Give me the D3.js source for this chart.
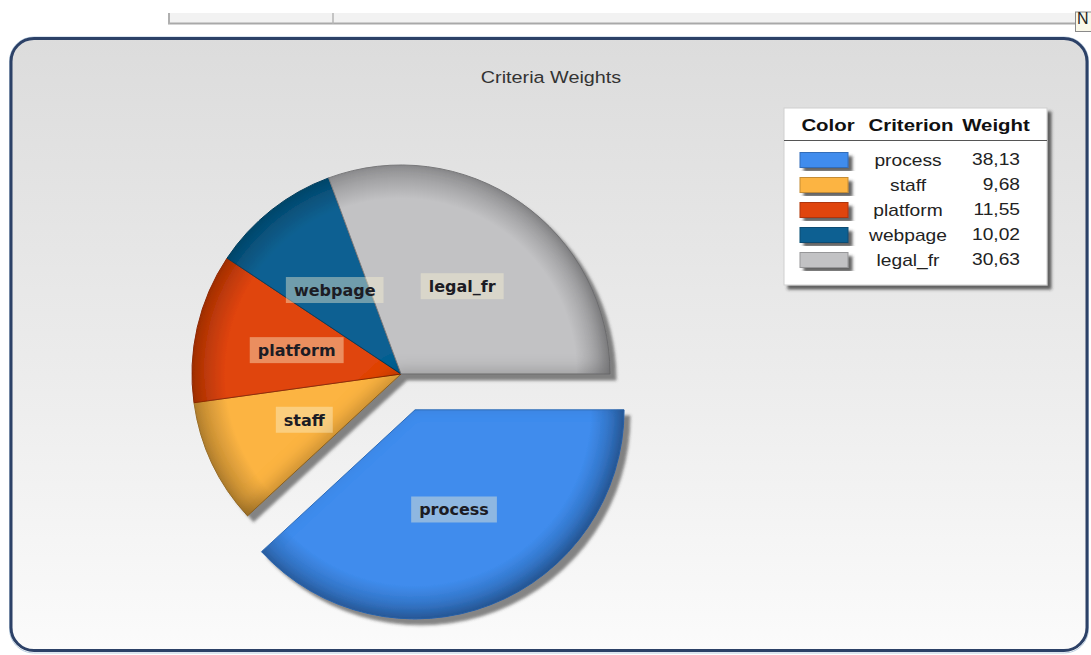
<!DOCTYPE html>
<html>
<head>
<meta charset="utf-8">
<script src="https://cdn.jsdelivr.net/npm/d3@7"></script>
<style>
  html, body { margin: 0; padding: 0; background: #ffffff; }
  svg { display: block; }
</style>
</head>
<body>
<svg id="chart" width="1091" height="655"></svg>
<script>
// Criteria and their weights (percent), in drawing order
const criteria = ["process", "staff", "platform", "webpage", "legal_fr"];
const weights = [38.13, 9.68, 11.55, 10.02, 30.63];
const palette = ["#3f8ced", "#fcb443", "#e0440e", "#0f6192", "#c2c2c4"];
const legendHeaders = ["Color", "Criterion", "Weight"];
const chartTitle = "Criteria Weights";
const explodedCriterion = "process";

const svg = d3.select("#chart");

const color = d3.scaleOrdinal(criteria, palette);
const fmt = d3.formatLocale({ decimal: ",", thousands: ".", grouping: [3], currency: ["", ""] }).format(".2f");

const defs = svg.append("defs");

// panel background gradient
const bg = defs.append("linearGradient").attr("id", "panelBg")
  .attr("x1", 0).attr("y1", 0).attr("x2", 0).attr("y2", 1);
bg.append("stop").attr("offset", "0%").attr("stop-color", "#dcdcdc");
bg.append("stop").attr("offset", "55%").attr("stop-color", "#ececec");
bg.append("stop").attr("offset", "100%").attr("stop-color", "#fbfbfb");

// bevel: inner shading toward lower right plus a soft drop shadow
const f = defs.append("filter").attr("id", "bevel")
  .attr("x", "-10%").attr("y", "-10%").attr("width", "130%").attr("height", "130%");
f.append("feGaussianBlur").attr("in", "SourceAlpha").attr("stdDeviation", 8).attr("result", "b");
f.append("feOffset").attr("in", "b").attr("dx", -5).attr("dy", -5).attr("result", "bo");
f.append("feComposite").attr("in", "SourceAlpha").attr("in2", "bo").attr("operator", "out").attr("result", "rim");
f.append("feFlood").attr("flood-color", "#000").attr("flood-opacity", 0.4).attr("result", "c");
f.append("feComposite").attr("in", "c").attr("in2", "rim").attr("operator", "in").attr("result", "shade");
const m1 = f.append("feMerge").attr("result", "lit");
m1.append("feMergeNode").attr("in", "SourceGraphic");
m1.append("feMergeNode").attr("in", "shade");
f.append("feGaussianBlur").attr("in", "SourceAlpha").attr("stdDeviation", 1.5).attr("result", "db");
f.append("feOffset").attr("in", "db").attr("dx", 6).attr("dy", 6).attr("result", "dbo");
f.append("feFlood").attr("flood-color", "#3a3a3a").attr("flood-opacity", 0.6).attr("result", "dc");
f.append("feComposite").attr("in", "dc").attr("in2", "dbo").attr("operator", "in").attr("result", "drop");
const m2 = f.append("feMerge");
m2.append("feMergeNode").attr("in", "drop");
m2.append("feMergeNode").attr("in", "lit");

// legend / swatch shadow
const ls = defs.append("filter").attr("id", "boxShadow")
  .attr("x", "-10%").attr("y", "-10%").attr("width", "130%").attr("height", "130%");
ls.append("feDropShadow").attr("dx", 4).attr("dy", 4).attr("stdDeviation", 1.5)
  .attr("flood-color", "#303030").attr("flood-opacity", 0.75);

// helper: text stretched horizontally around its anchor
function stretchedText(g, x, y, str, k) {
  return g.append("text")
    .attr("transform", `translate(${x},${y}) scale(${k},1)`)
    .text(str);
}

// ---- top toolbar strip ----
const strip = svg.append("g");
strip.append("rect").attr("x", 168).attr("y", 13).attr("width", 907).attr("height", 11)
  .attr("fill", "#f2f2f2");
strip.append("line").attr("x1", 168).attr("x2", 1075).attr("y1", 23.5).attr("y2", 23.5)
  .attr("stroke", "#a9a9a9").attr("stroke-width", 2);
strip.append("line").attr("x1", 169).attr("x2", 169).attr("y1", 13).attr("y2", 24)
  .attr("stroke", "#b0b0b0").attr("stroke-width", 2);
strip.append("line").attr("x1", 333).attr("x2", 333).attr("y1", 13).attr("y2", 24)
  .attr("stroke", "#b4b4b4").attr("stroke-width", 1.5);
strip.append("rect").attr("x", 1075.5).attr("y", 12).attr("width", 20).attr("height", 19.5)
  .attr("fill", "#faf8ea").attr("stroke", "#8a8a8a");
strip.append("text").attr("x", 1077).attr("y", 24)
  .attr("font-family", "Liberation Sans, Arial, sans-serif").attr("font-size", 16)
  .attr("fill", "#222").text("N");

// ---- panel ----
svg.append("rect").attr("x", 9.5).attr("y", 37).attr("width", 1079).attr("height", 616).attr("rx", 24)
  .attr("fill", "none").attr("stroke", "#b9cde0").attr("stroke-width", 1);
svg.append("rect").attr("x", 11).attr("y", 38.5).attr("width", 1076).attr("height", 612).attr("rx", 23)
  .attr("fill", "url(#panelBg)").attr("stroke", "#2c4167").attr("stroke-width", 3);

// ---- title ----
stretchedText(svg, 551, 83, chartTitle, 1.2)
  .attr("text-anchor", "middle")
  .attr("font-family", "Liberation Sans, Arial, sans-serif")
  .attr("font-size", 16.5).attr("fill", "#333");

// ---- pie ----
const cx = 401, cy = 374, R = 209, explode = 38.5;
const data = criteria.map((c, i) => ({ name: c, value: weights[i] }));
const pie = d3.pie().value(d => d.value).sort(null)
  .startAngle(Math.PI / 2).endAngle(Math.PI / 2 + 2 * Math.PI);
const arcs = pie(data);
const arc = d3.arc().innerRadius(0).outerRadius(R);
const labelArc = d3.arc().innerRadius(2 * 107 - R).outerRadius(R); // centroid at 107px from centre

// per-slice radial gradient: flat colour, darkening toward the rim
criteria.forEach((c, i) => {
  const g = defs.append("radialGradient").attr("id", `rim${i}`)
    .attr("gradientUnits", "userSpaceOnUse")
    .attr("cx", 0).attr("cy", 0).attr("r", R);
  g.append("stop").attr("offset", "0%").attr("stop-color", color(c));
  g.append("stop").attr("offset", "84%").attr("stop-color", color(c));
  g.append("stop").attr("offset", "100%").attr("stop-color", d3.color(color(c)).darker(0.85));
});
const fillOf = d => `url(#rim${criteria.indexOf(d.data.name)})`;

function offsetOf(d) {
  if (d.data.name !== explodedCriterion) return [0, 0];
  const a = (d.startAngle + d.endAngle) / 2;
  return [Math.sin(a) * explode, -Math.cos(a) * explode];
}

const pieG = svg.append("g").attr("transform", `translate(${cx},${cy})`);
const mainG = pieG.append("g").attr("filter", "url(#bevel)");
mainG.selectAll("path")
  .data(arcs.filter(d => d.data.name !== explodedCriterion))
  .join("path")
  .attr("d", arc)
  .attr("fill", fillOf)
  .attr("stroke", d => d3.color(color(d.data.name)).darker(1.2))
  .attr("stroke-width", 1);

pieG.selectAll("g.exploded")
  .data(arcs.filter(d => d.data.name === explodedCriterion))
  .join("g").attr("class", "exploded")
  .attr("transform", d => `translate(${offsetOf(d)})`)
  .attr("filter", "url(#bevel)")
  .append("path")
  .attr("d", arc)
  .attr("fill", fillOf)
  .attr("stroke", d => d3.color(color(d.data.name)).darker(0.6))
  .attr("stroke-width", 1);

// slice labels with translucent boxes
const labels = pieG.selectAll("g.lbl")
  .data(arcs)
  .join("g").attr("class", "lbl")
  .attr("transform", d => {
    const [x, y] = labelArc.centroid(d);
    const [ox, oy] = offsetOf(d);
    return `translate(${x + ox},${y + oy})`;
  });
labels.append("text")
  .attr("text-anchor", "middle").attr("dy", "0.36em")
  .attr("font-family", "DejaVu Sans, Verdana, sans-serif")
  .attr("font-weight", "bold").attr("font-size", 16)
  .attr("fill", "#1c1c24")
  .text(d => d.data.name);
labels.each(function () {
  const g = d3.select(this);
  const w = g.select("text").node().getComputedTextLength();
  g.insert("rect", "text")
    .attr("x", -w / 2 - 8).attr("y", -13).attr("width", w + 16).attr("height", 26)
    .attr("fill", "#fbf3d2").attr("fill-opacity", 0.42);
});

// ---- legend ----
const lg = svg.append("g");
lg.append("rect").attr("x", 784).attr("y", 108).attr("width", 263).attr("height", 177)
  .attr("fill", "#ffffff").attr("stroke", "#cfcfcf").attr("filter", "url(#boxShadow)");
lg.append("line").attr("x1", 784).attr("x2", 1047).attr("y1", 140.5).attr("y2", 140.5)
  .attr("stroke", "#555").attr("stroke-width", 1);

const headerX = [828, 911, 996];
legendHeaders.forEach((h, i) => {
  stretchedText(lg, headerX[i], 131, h, 1.2)
    .attr("text-anchor", "middle")
    .attr("font-family", "Liberation Sans, Arial, sans-serif")
    .attr("font-weight", "bold").attr("font-size", 17).attr("fill", "#111");
});

const rowY = d3.scalePoint().domain(criteria).range([160, 260]);
const rows = lg.selectAll("g.row").data(data).join("g").attr("class", "row")
  .attr("transform", d => `translate(0,${rowY(d.name)})`);
rows.append("rect").attr("x", 800).attr("y", -7.5).attr("width", 48).attr("height", 15)
  .attr("fill", d => color(d.name))
  .attr("stroke", d => d3.color(color(d.name)).darker(0.7)).attr("stroke-width", 1)
  .attr("filter", "url(#boxShadow)");
rows.each(function (d) {
  const g = d3.select(this);
  stretchedText(g, 908, 6, d.name, 1.2)
    .attr("text-anchor", "middle")
    .attr("font-family", "Liberation Sans, Arial, sans-serif")
    .attr("font-size", 16).attr("fill", "#222");
  stretchedText(g, 1020, 5, fmt(d.value), 1.2)
    .attr("text-anchor", "end")
    .attr("font-family", "Liberation Sans, Arial, sans-serif")
    .attr("font-size", 16).attr("fill", "#222");
});
</script>
</body>
</html>
